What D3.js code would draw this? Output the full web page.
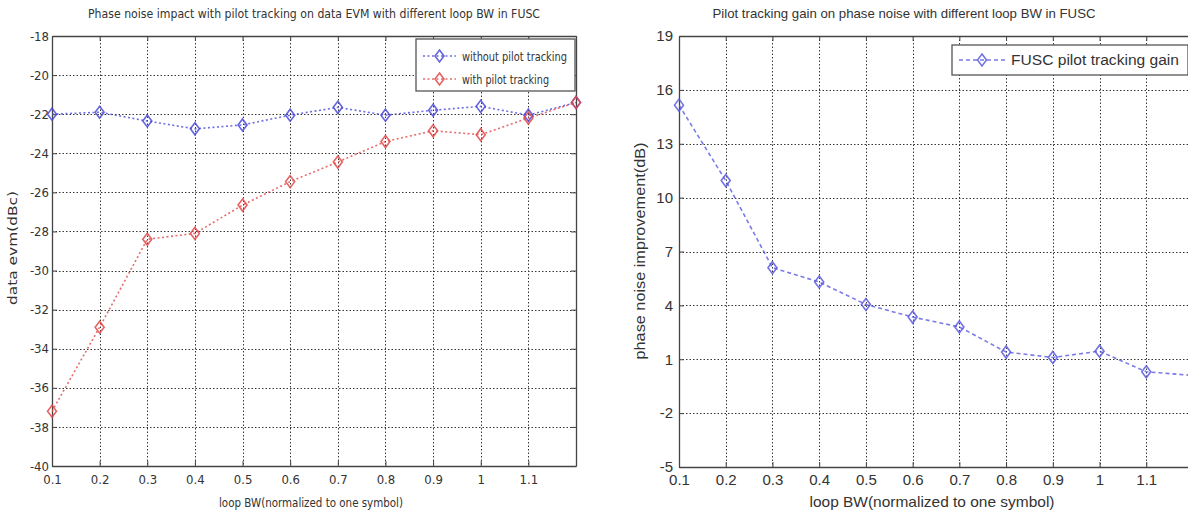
<!DOCTYPE html>
<html>
<head>
<meta charset="utf-8">
<script src="https://cdn.jsdelivr.net/npm/d3@7/dist/d3.min.js"></script>
<style>
  body { margin: 0; background: #fff; }
  svg { display: block; }
  .narrow text { font-family: "DejaVu Sans", sans-serif; font-stretch: condensed; fill: #333; }
  .wide text { font-family: "Liberation Sans", Arial, sans-serif; fill: #333; }
</style>
</head>
<body>
<svg id="chart" width="1188" height="516"></svg>
<script>
// loop bandwidth values (x axis, both panels)
var loopBW = [0.1, 0.2, 0.3, 0.4, 0.5, 0.6, 0.7, 0.8, 0.9, 1.0, 1.1, 1.2];
var xTicks = [0.1, 0.2, 0.3, 0.4, 0.5, 0.6, 0.7, 0.8, 0.9, 1.0, 1.1, 1.2];
var xTickLabels = ['0.1', '0.2', '0.3', '0.4', '0.5', '0.6', '0.7', '0.8', '0.9', '1', '1.1', ''];

// left panel: data EVM (dBc)
var evmWithout = [-22.0, -21.9, -22.35, -22.75, -22.55, -22.05, -21.65, -22.05, -21.8, -21.6, -22.05, -21.4];
var evmWith = [-37.2, -32.9, -28.4, -28.1, -26.65, -25.45, -24.45, -23.4, -22.85, -23.05, -22.2, -21.4];
var evmTicks = [-40, -38, -36, -34, -32, -30, -28, -26, -24, -22, -20, -18];

// right panel: pilot tracking gain (dB)
var fuscGain = [15.15, 10.95, 6.1, 5.3, 4.05, 3.35, 2.8, 1.4, 1.1, 1.45, 0.3, 0.1];
var gainTicks = [-5, -2, 1, 4, 7, 10, 13, 16, 19];

var svg = d3.select('#chart');

/*
 * helper: one MATLAB-style panel
 */
function drawPanel(opt) {
  var g = svg.append('g').attr('class', opt.cls);
  var x = d3.scaleLinear().domain([0.1, 1.2]).range([opt.left, opt.right]);
  var y = d3.scaleLinear().domain(opt.yDomain).range([opt.bottom, opt.top]);

  var clipId = 'clip-' + opt.cls;
  svg.append('clipPath').attr('id', clipId)
    .append('rect')
    .attr('x', opt.left).attr('y', opt.top)
    .attr('width', opt.right - opt.left).attr('height', opt.bottom - opt.top);

  // grid
  var grid = g.append('g')
    .attr('stroke', '#222').attr('stroke-width', 1)
    .attr('stroke-dasharray', '1.5,2').attr('opacity', 0.9);
  grid.selectAll('line.gx').data(xTicks.slice(1, -1)).enter().append('line')
    .attr('x1', function(d) { return Math.round(x(d)) + 0.5; })
    .attr('x2', function(d) { return Math.round(x(d)) + 0.5; })
    .attr('y1', opt.top).attr('y2', opt.bottom);
  grid.selectAll('line.gy').data(opt.yTicks.slice(1, -1)).enter().append('line')
    .attr('y1', function(d) { return Math.round(y(d)) + 0.5; })
    .attr('y2', function(d) { return Math.round(y(d)) + 0.5; })
    .attr('x1', opt.left).attr('x2', opt.right);

  // axes (box with inward ticks on all sides)
  var tick = 5;
  var axisBottom = d3.axisBottom(x).tickValues(xTicks)
    .tickSizeInner(-tick).tickSizeOuter(0).tickPadding(opt.xPad)
    .tickFormat(function(d, i) { return xTickLabels[i]; });
  var axisTop = d3.axisTop(x).tickValues(xTicks)
    .tickSizeInner(-tick).tickSizeOuter(0).tickFormat('');
  var axisLeft = d3.axisLeft(y).tickValues(opt.yTicks)
    .tickSizeInner(-tick).tickSizeOuter(0).tickPadding(opt.yPad)
    .tickFormat(function(d) { return String(d); });
  var axisRight = d3.axisRight(y).tickValues(opt.yTicks)
    .tickSizeInner(-tick).tickSizeOuter(0).tickFormat('');

  function styleAxis(sel) {
    sel.attr('font-family', null).attr('font-size', null);
    sel.select('.domain').attr('stroke', '#444').attr('stroke-width', 1.3);
    sel.selectAll('.tick line').attr('stroke', '#444');
    sel.selectAll('.tick text').attr('fill', '#333').attr('font-size', opt.tickSize);
  }

  g.append('g').attr('transform', 'translate(0,' + opt.bottom + ')').call(axisBottom).call(styleAxis);
  g.append('g').attr('transform', 'translate(0,' + opt.top + ')').call(axisTop).call(styleAxis);
  g.append('g').attr('transform', 'translate(' + opt.left + ',0)').call(axisLeft).call(styleAxis);
  g.append('g').attr('transform', 'translate(' + opt.right + ',0)').call(axisRight).call(styleAxis);

  // series
  var line = d3.line()
    .x(function(d, i) { return x(loopBW[i]); })
    .y(function(d) { return y(d); });

  var plot = g.append('g').attr('clip-path', 'url(#' + clipId + ')');
  opt.series.forEach(function(s) {
    plot.append('path').datum(s.values)
      .attr('d', line)
      .attr('fill', 'none')
      .attr('stroke', s.color)
      .attr('stroke-width', 1.6)
      .attr('stroke-dasharray', opt.dash)
      .attr('opacity', 0.8);
  });
  opt.series.forEach(function(s) {
    g.append('g').selectAll('path.m').data(s.values).enter().append('path')
      .attr('transform', function(d, i) { return 'translate(' + x(loopBW[i]) + ',' + y(d) + ')'; })
      .attr('d', 'M0,-6L4.5,0L0,6L-4.5,0Z')
      .attr('fill', 'none')
      .attr('stroke', s.color)
      .attr('stroke-width', 1.6)
      .attr('opacity', 0.85);
  });

  function fitText(sel, w) {
    sel.attr('textLength', w).attr('lengthAdjust', 'spacingAndGlyphs');
  }
  g.append('text')
    .attr('x', opt.titleX).attr('y', 18)
    .attr('text-anchor', 'middle')
    .attr('font-size', opt.titleSize)
    .text(opt.title)
    .call(fitText, opt.titleW);
  g.append('text')
    .attr('x', opt.xLabelX).attr('y', 507)
    .attr('text-anchor', 'middle')
    .attr('font-size', opt.labelSize)
    .text('loop BW(normalized to one symbol)')
    .call(fitText, opt.xLabelW);
  g.append('text')
    .attr('transform', 'translate(' + opt.yLabelX + ',' + opt.yLabelY + ') rotate(-90)')
    .attr('text-anchor', 'middle')
    .attr('font-size', opt.labelSize)
    .text(opt.yLabel)
    .call(fitText, opt.yLabelW);

  // legend
  var lg = g.append('g');
  lg.append('rect')
    .attr('x', opt.legend.x).attr('y', opt.legend.y)
    .attr('width', opt.legend.w).attr('height', opt.legend.h)
    .attr('fill', '#fff').attr('stroke', '#555').attr('stroke-width', 1.3);
  opt.series.forEach(function(s, i) {
    var ly = opt.legend.y + opt.legend.rowStart + i * opt.legend.rowGap;
    var lx = opt.legend.x + 7;
    lg.append('line')
      .attr('x1', lx).attr('x2', lx + opt.legend.sample)
      .attr('y1', ly).attr('y2', ly)
      .attr('stroke', s.color).attr('stroke-width', 1.6)
      .attr('stroke-dasharray', opt.dash).attr('opacity', 0.8);
    lg.append('path')
      .attr('transform', 'translate(' + (lx + opt.legend.sample / 2) + ',' + ly + ')')
      .attr('d', 'M0,-6L4.5,0L0,6L-4.5,0Z')
      .attr('fill', 'none').attr('stroke', s.color).attr('stroke-width', 1.6).attr('opacity', 0.85);
    lg.append('text')
      .attr('x', lx + opt.legend.sample + 6).attr('y', ly)
      .attr('dy', '0.35em')
      .attr('font-size', opt.legend.size)
      .text(s.name)
      .call(fitText, s.textW);
  });
}

drawPanel({
  cls: 'narrow',
  left: 52, right: 576, top: 36, bottom: 466,
  yDomain: [-40, -18], yTicks: evmTicks,
  dash: '2,2.5',
  xPad: 9, yPad: 3,
  tickSize: 13, titleSize: 13, labelSize: 13,
  title: 'Phase noise impact with pilot tracking on data EVM with different loop BW in FUSC',
  titleX: 314, titleW: 452,
  xLabelX: 311, xLabelW: 184,
  yLabelX: 17, yLabelY: 248, yLabelW: 114,
  yLabel: 'data evm(dBc)',
  series: [
    { name: 'without pilot tracking', values: evmWithout, color: '#4a4ad8', textW: 105 },
    { name: 'with pilot tracking', values: evmWith, color: '#e04848', textW: 87 }
  ],
  legend: { x: 416, y: 39, w: 159, h: 52, rowStart: 17, rowGap: 23, sample: 33, size: 13 }
});

drawPanel({
  cls: 'wide',
  left: 679, right: 1193, top: 36, bottom: 467,
  yDomain: [-5, 19], yTicks: gainTicks,
  dash: '4,3',
  xPad: 7, yPad: 6,
  tickSize: 15, titleSize: 13.5, labelSize: 15,
  title: 'Pilot tracking gain on phase noise with different loop BW in FUSC',
  titleX: 904, titleW: 383,
  xLabelX: 932, xLabelW: 245,
  yLabelX: 645, yLabelY: 251, yLabelW: 217,
  yLabel: 'phase noise improvement(dB)',
  series: [
    { name: 'FUSC pilot tracking gain', values: fuscGain, color: '#5a5ae0', textW: 168 }
  ],
  legend: { x: 952, y: 45, w: 236, h: 30, rowStart: 15, rowGap: 0, sample: 46, size: 15.5 }
});
</script>
</body>
</html>
